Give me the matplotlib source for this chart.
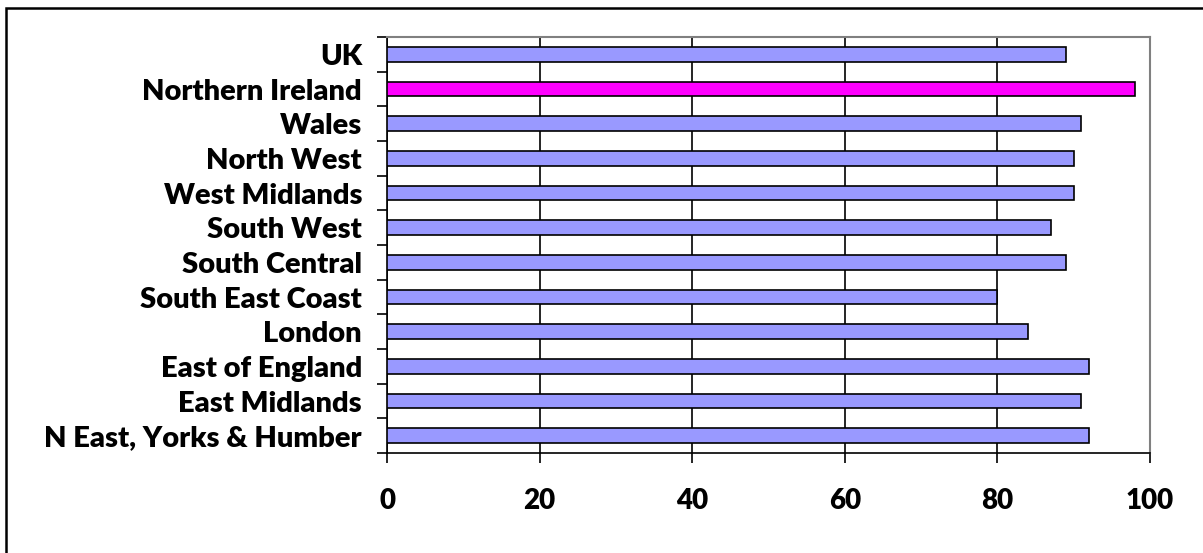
import matplotlib.pyplot as plt
from matplotlib.patches import Rectangle

regions = ["UK", "Northern Ireland", "Wales", "North West", "West Midlands",
           "South West", "South Central", "South East Coast", "London",
           "East of England", "East Midlands", "N East, Yorks & Humber"]
values = [89, 98, 91, 90, 90, 87, 89, 80, 84, 92, 91, 92]
highlight = "Northern Ireland"

# bottom to top, as barh draws them
regions_b = regions[::-1]
values_b = values[::-1]
colors = ["#FF00FF" if r == highlight else "#9999FF" for r in regions_b]

plt.rcParams["font.family"] = ["Lato", "DejaVu Sans"]
plt.rcParams["font.weight"] = "bold"

fig = plt.figure(figsize=(12.03, 5.53), dpi=100)
ax = fig.add_axes([387 / 1203, 1 - 453 / 553, (1150 - 387) / 1203, (453 - 37) / 553])

pos = list(range(len(regions_b)))
ax.barh(pos, values_b, height=0.42, color=colors, edgecolor="black", linewidth=1.2, zorder=3)

ax.set_xlim(0, 100)
ax.set_ylim(-0.5, len(regions_b) - 0.5)
ax.set_xticks([0, 20, 40, 60, 80, 100])
ax.xaxis.grid(True, color="black", linewidth=1.2, zorder=0)
ax.set_axisbelow(True)

# category boundaries as ticks, names on minor ticks
ax.set_yticks([p - 0.5 for p in pos] + [len(pos) - 0.5])
ax.set_yticklabels([])
ax.set_yticks(pos, minor=True)
ax.set_yticklabels(regions_b, minor=True, fontsize=21, fontweight="heavy")
ax.tick_params(axis="y", which="major", direction="out", length=7, width=1.2)
ax.tick_params(axis="y", which="minor", length=0, pad=18)
ax.tick_params(axis="x", direction="out", length=7, width=1.2, pad=18, labelsize=20)
for lbl in ax.get_xticklabels():
    lbl.set_fontweight("heavy")

ax.spines["left"].set_color("black")
ax.spines["bottom"].set_color("black")
ax.spines["left"].set_linewidth(1.2)
ax.spines["bottom"].set_linewidth(1.2)
ax.spines["top"].set_color("#808080")
ax.spines["right"].set_color("#808080")
ax.spines["top"].set_linewidth(1.5)
ax.spines["right"].set_linewidth(1.5)

# chart border
fig.patches.append(Rectangle((6 / 1203, -0.05), 1.1, 1 - 8 / 553 + 0.05,
                             transform=fig.transFigure, fill=False,
                             edgecolor="black", linewidth=1.8))

fig.savefig("out.png", dpi=100)
